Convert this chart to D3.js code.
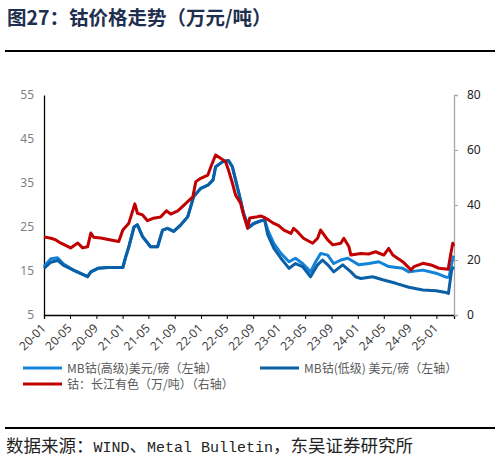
<!DOCTYPE html>
<html><head><meta charset="utf-8">
<script src="https://cdn.jsdelivr.net/npm/d3@7/dist/d3.min.js"></script>
<style>body{margin:0;background:#fff;}svg{display:block;}</style>
</head><body><svg id="c" width="501" height="469"></svg>
<script>
// ---- data ----
const redDates = ["2020-01-01","2020-02-02","2020-02-25","2020-03-18","2020-05-04","2020-06-06","2020-06-29","2020-07-22","2020-08-06","2020-08-19","2020-09-21","2020-11-07","2020-12-14","2021-01-02","2021-01-30","2021-02-27","2021-03-11","2021-04-04","2021-04-27","2021-05-25","2021-06-27","2021-07-24","2021-08-13","2021-09-15","2021-09-29","2021-10-31","2021-11-24","2021-12-08","2021-12-31","2022-02-02","2022-02-16","2022-03-10","2022-04-02","2022-04-25","2022-05-09","2022-05-27","2022-06-11","2022-07-04","2022-07-18","2022-08-06","2022-08-16","2022-09-13","2022-10-06","2022-10-20","2022-11-13","2022-12-06","2022-12-29","2023-01-22","2023-02-24","2023-03-08","2023-03-26","2023-04-23","2023-06-05","2023-06-28","2023-07-12","2023-08-14","2023-09-07","2023-10-14","2023-10-28","2023-11-21","2023-11-30","2024-01-15","2024-02-21","2024-03-24","2024-05-01","2024-05-24","2024-06-12","2024-07-28","2024-09-05","2024-09-19","2024-10-30","2024-12-07","2025-01-13","2025-02-25","2025-03-04","2025-03-18","2025-03-22"];
const redValues = [28.4,27.9,27.3,26.2,24.4,26.2,24.4,24.8,29.8,28.3,28.0,27.3,26.7,30.9,33.4,40.4,37.0,36.4,34.3,35.2,35.6,37.9,36.7,37.9,38.9,41.2,43.0,48.5,49.7,50.9,53.9,58.2,57.0,55.8,52.7,48.0,43.6,40.7,36.4,31.5,35.3,35.6,36.0,35.6,34.5,33.3,32.5,30.9,29.7,31.5,30.3,27.9,26.1,27.9,30.9,27.3,25.5,26.1,27.9,24.8,21.8,22.4,22.2,23.0,21.8,24.2,21.8,19.4,16.4,17.6,18.8,18.2,17.0,16.6,20.0,26.1,25.0];

const mbDates = ["2020-01-01","2020-02-02","2020-03-04","2020-04-01","2020-05-17","2020-07-22","2020-08-06","2020-09-08","2020-10-24","2021-01-02","2021-01-16","2021-01-30","2021-02-23","2021-03-11","2021-04-04","2021-05-11","2021-06-13","2021-07-06","2021-07-29","2021-08-27","2021-09-29","2021-10-31","2021-11-28","2021-12-31","2022-02-02","2022-02-26","2022-03-10","2022-04-11","2022-05-09","2022-05-27","2022-06-11","2022-07-04","2022-07-18","2022-08-11","2022-09-04","2022-10-06","2022-10-24","2022-11-08","2022-12-06","2023-01-08","2023-02-15","2023-03-17","2023-04-19","2023-05-26","2023-06-19","2023-07-12","2023-08-14","2023-09-11","2023-10-14","2023-11-16","2023-12-13","2024-01-06","2024-02-21","2024-04-08","2024-05-24","2024-07-28","2024-08-26","2024-10-30","2024-12-30","2025-02-15","2025-03-01","2025-03-13","2025-03-22"];
const mbHighValues = [16.0,17.8,18.0,16.6,15.2,13.7,14.8,15.6,15.8,15.8,18.3,20.5,25.0,25.5,22.8,20.5,20.5,24.3,24.7,24.0,25.5,27.3,31.9,33.8,34.5,35.7,38.7,39.8,40.1,38.7,35.7,31.1,28.1,24.9,25.8,26.4,26.6,24.3,21.3,19.0,17.1,17.9,16.7,14.8,17.1,19.0,18.6,16.7,17.5,17.9,17.1,16.4,16.7,17.1,16.0,15.6,14.8,15.2,14.5,13.6,13.6,16.7,18.5];
const mbLowDates = ["2020-01-01","2020-02-02","2020-03-04","2020-04-01","2020-05-17","2020-07-22","2020-08-06","2020-09-08","2020-10-24","2021-01-02","2021-01-16","2021-01-30","2021-02-23","2021-03-11","2021-04-04","2021-05-11","2021-06-13","2021-07-06","2021-07-29","2021-08-27","2021-09-29","2021-10-31","2021-11-28","2021-12-31","2022-02-02","2022-02-26","2022-03-10","2022-04-11","2022-05-09","2022-05-27","2022-06-11","2022-07-04","2022-07-18","2022-08-11","2022-09-04","2022-10-06","2022-10-24","2022-11-08","2022-12-06","2023-01-08","2023-02-15","2023-03-17","2023-04-19","2023-05-26","2023-06-28","2023-07-21","2023-08-14","2023-09-11","2023-10-23","2023-11-30","2023-12-22","2024-01-15","2024-03-10","2024-04-26","2024-06-26","2024-08-26","2024-10-30","2024-12-30","2025-02-15","2025-02-26","2025-03-13","2025-03-22"];
const mbLowValues = [15.6,17.0,17.4,16.3,15.2,13.7,14.8,15.6,15.8,15.8,18.3,20.5,25.0,25.5,22.8,20.5,20.5,24.3,24.7,24.0,25.5,27.3,31.9,33.8,34.5,35.7,38.7,39.8,40.1,38.7,35.7,31.1,28.1,24.9,25.8,26.4,26.6,23.2,20.2,17.9,15.6,16.7,16.0,13.7,16.4,17.5,16.4,14.8,16.4,14.8,13.7,13.3,13.7,13.0,12.2,11.3,10.7,10.5,10.1,9.9,15.2,16.0];

const xTickLabels = ["20-01","20-05","20-09","21-01","21-05","21-09","22-01","22-05","22-09","23-01","23-05","23-09","24-01","24-05","24-09","25-01"];
const leftTicks = [5,15,25,35,45,55];
const rightTicks = [0,20,40,60,80];
const seriesNames = ["MB钴(高级)美元/磅（左轴）","MB钴(低级) 美元/磅（左轴）","钴：长江有色（万/吨）（右轴）"];
const titleText = "图27：钴价格走势（万元/吨）";
const sourceParts = [["数据来源：","cjk"],["WIND","lat"],["、","cjk"],["Metal Bulletin","lat"],["，东吴证券研究所","cjk"]];

// ---- drawing ----
const svg = d3.select("#c");
const parse = d3.timeParse("%Y-%m-%d");
const L = 44, R = 454, T = 95, B = 315;
const x = d3.scaleTime().domain([parse("2020-01-01"), parse("2025-03-24")]).range([L, R]);
const yL = d3.scaleLinear().domain([5,55]).range([B,T]);
const yR = d3.scaleLinear().domain([0,80]).range([B,T]);

const COL_LIGHT = "#1283d6", COL_DARK = "#0a5fa6", COL_RED = "#c00000";
const cjk = "'Noto Sans CJK SC', sans-serif";

svg.append("text").attr("x",7).attr("y",25).attr("font-family",cjk).attr("font-weight",700)
  .attr("font-size",19.5).attr("fill","#1f2f4f").text(titleText);
svg.append("line").attr("x1",5).attr("x2",495).attr("y1",51).attr("y2",51).attr("stroke","#000").attr("stroke-width",2);
svg.append("line").attr("x1",5).attr("x2",495).attr("y1",428).attr("y2",428).attr("stroke","#000").attr("stroke-width",2);

// axes
const tickDates = xTickLabels.map(s => parse("20"+s+"-01"));
const xAxis = d3.axisBottom(x).tickValues(tickDates).tickSize(4).tickFormat(d3.timeFormat("%y-%m"));
const gx = svg.append("g").attr("transform",`translate(0,${B})`).call(xAxis);
gx.select(".domain").attr("stroke","#000").attr("stroke-width",1.3);
gx.selectAll(".tick line").attr("stroke","#000");
gx.selectAll(".tick text").attr("font-family","'Noto Sans', sans-serif").attr("font-size",12).attr("fill","#404040")
  .attr("text-anchor","end").attr("dy",null).attr("y",0)
  .attr("transform","translate(2,14) rotate(-45)");

const gl = svg.append("g").attr("transform",`translate(${L},0)`).call(d3.axisLeft(yL).tickValues(leftTicks).tickSize(0).tickPadding(10));
gl.select(".domain").attr("stroke","#000").attr("stroke-width",1.3);
gl.selectAll(".tick text").attr("font-family","'Noto Sans', sans-serif").attr("font-size",12).attr("fill","#7f7f7f");

const gr = svg.append("g").attr("transform",`translate(${R},0)`).call(d3.axisRight(yR).tickValues(rightTicks).tickSize(4).tickPadding(9));
gr.select(".domain").attr("stroke","#a6a6a6").attr("stroke-width",1.3);
gr.selectAll(".tick line").attr("stroke","#a6a6a6");
gr.selectAll(".tick text").attr("font-family","'Noto Sans', sans-serif").attr("font-size",12).attr("fill","#222");

// lines
function draw(dates, vals, y, col){
  const data = dates.map((d,i)=>[parse(d), vals[i]]);
  svg.append("path").datum(data).attr("fill","none").attr("stroke",col).attr("stroke-width",3)
    .attr("stroke-linejoin","round").attr("d", d3.line().x(d=>x(d[0])).y(d=>y(d[1])));
}
draw(mbDates, mbHighValues, yL, COL_LIGHT);
draw(mbLowDates, mbLowValues, yL, COL_DARK);
draw(redDates, redValues, yR, COL_RED);

// legend
const leg = [[23,368,COL_LIGHT,seriesNames[0]],[260,368,COL_DARK,seriesNames[1]],[23,384,COL_RED,seriesNames[2]]];
leg.forEach(([lx,ly,c,t])=>{
  svg.append("line").attr("x1",lx).attr("x2",lx+39).attr("y1",ly).attr("y2",ly).attr("stroke",c).attr("stroke-width",3);
  svg.append("text").attr("x",lx+44).attr("y",ly+4.5).attr("font-family",cjk).attr("font-size",12).attr("fill","#595959").text(t);
});

// source
const st = svg.append("text").attr("x",6).attr("y",452).attr("fill","#222");
sourceParts.forEach(([s,k])=>{
  st.append("tspan").attr("font-family", k==="cjk"? cjk : "'Liberation Mono', monospace")
    .attr("font-size", k==="cjk"? 17.5 : 15).text(s);
});
</script></body></html>
